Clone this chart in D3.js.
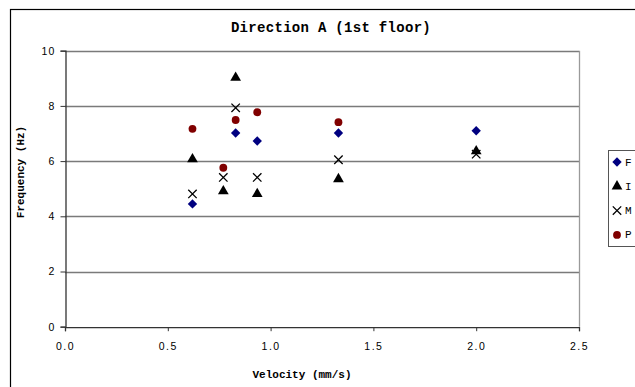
<!DOCTYPE html>
<html>
<head>
<meta charset="utf-8">
<script src="https://cdn.jsdelivr.net/npm/d3@7"></script>
<style>
  html, body { margin: 0; padding: 0; background: #fff; }
  svg { display: block; }
</style>
</head>
<body>
<svg id="chart" width="635" height="387"></svg>
<script>
// Measured natural frequencies against velocity for each test series
const seriesNames = ["F", "I", "M", "P"];
const velocityF = [0.62, 0.83, 0.935, 1.33, 2.0];
const freqF     = [4.45, 7.02, 6.73, 7.02, 7.10];
const velocityI = [0.62, 0.77, 0.83, 0.935, 1.33, 2.0];
const freqI     = [6.07, 4.91, 9.02, 4.81, 5.35, 6.36];
const velocityM = [0.62, 0.77, 0.83, 0.935, 1.33, 2.0];
const freqM     = [4.81, 5.41, 7.93, 5.41, 6.05, 6.25];
const velocityP = [0.62, 0.77, 0.83, 0.935, 1.33];
const freqP     = [7.17, 5.76, 7.49, 7.77, 7.41];
const xTicks = [0, 0.5, 1.0, 1.5, 2.0, 2.5];
const yTicks = [0, 2, 4, 6, 8, 10];

const svg = d3.select("#chart");
const plot = { left: 65, right: 579, top: 50.7, bottom: 326.7 };

const x = d3.scaleLinear().domain([0, 2.5]).range([plot.left, plot.right]);
const y = d3.scaleLinear().domain([0, 10]).range([plot.bottom, plot.top]);

// outer chart frame (extends past the window on the right and bottom)
svg.append("rect")
  .attr("x", 10.5).attr("y", 9.5).attr("width", 800).attr("height", 600)
  .attr("fill", "none").attr("stroke", "#000").attr("stroke-width", 1.2);

// horizontal gridlines
svg.append("g").selectAll("line").data(yTicks.slice(1)).join("line")
  .attr("x1", plot.left).attr("x2", plot.right)
  .attr("y1", d => Math.round(y(d)) + 0.5).attr("y2", d => Math.round(y(d)) + 0.5)
  .attr("stroke", "#7a7a7a").attr("stroke-width", 1.3);

// right border of plot area
svg.append("line")
  .attr("x1", plot.right + 0.5).attr("x2", plot.right + 0.5)
  .attr("y1", plot.top).attr("y2", plot.bottom)
  .attr("stroke", "#9a9a9a").attr("stroke-width", 1.3);

const tickFont = "'Liberation Sans Narrow', 'Liberation Sans', sans-serif";

// y axis
const yAxis = svg.append("g")
  .attr("transform", `translate(${plot.left + 0.5},0)`)
  .call(d3.axisLeft(y).tickValues(yTicks).tickFormat(d3.format("d")).tickSize(5).tickPadding(5));
yAxis.select(".domain").attr("stroke", "#333").attr("stroke-width", 1.3);
yAxis.selectAll(".tick line").attr("stroke", "#333");
yAxis.selectAll("text")
  .attr("font-family", tickFont).attr("font-size", 10.5).attr("fill", "#000")
  .attr("letter-spacing", 1.2);

// x axis
const xAxis = svg.append("g")
  .attr("transform", `translate(0,${plot.bottom + 0.5})`)
  .call(d3.axisBottom(x).tickValues(xTicks).tickFormat(d3.format(".1f")).tickSize(4).tickPadding(11));
xAxis.select(".domain").attr("stroke", "#333").attr("stroke-width", 1.3);
xAxis.selectAll(".tick line").attr("stroke", "#333");
xAxis.selectAll("text")
  .attr("font-family", tickFont).attr("font-size", 10.5).attr("fill", "#000")
  .attr("letter-spacing", 1.5);

const labelFont = "'Liberation Mono', 'Courier New', monospace";

// title
svg.append("text")
  .attr("x", 331).attr("y", 32)
  .attr("text-anchor", "middle")
  .attr("font-family", labelFont).attr("font-weight", "bold").attr("font-size", 14)
  .attr("letter-spacing", 0.3)
  .text("Direction A (1st floor)");

// axis titles
svg.append("text")
  .attr("x", 302).attr("y", 378)
  .attr("text-anchor", "middle")
  .attr("font-family", labelFont).attr("font-weight", "bold").attr("font-size", 11)
  .text("Velocity (mm/s)");

svg.append("text")
  .attr("transform", "translate(24,172) rotate(-90)")
  .attr("text-anchor", "middle")
  .attr("font-family", labelFont).attr("font-weight", "bold").attr("font-size", 11)
  .text("Frequency (Hz)");

// marker styles per series
const styles = {
  F: { shape: d3.symbolDiamond2, size: 56, fill: "#000080", stroke: "none" },
  I: { shape: d3.symbolTriangle, size: 50, fill: "#000", stroke: "none" },
  M: { shape: d3.symbolTimes, size: 48, fill: "none", stroke: "#000" },
  P: { shape: d3.symbolCircle, size: 48, fill: "#800000", stroke: "none" }
};

function drawMarker(g, name, cx, cy) {
  const s = styles[name];
  g.append("path")
    .attr("d", d3.symbol().type(s.shape).size(s.size)())
    .attr("transform", `translate(${cx},${cy})`)
    .attr("fill", s.fill)
    .attr("stroke", s.stroke)
    .attr("stroke-width", s.stroke === "none" ? 0 : 1.3);
}

const series = [
  { name: "F", xs: velocityF, ys: freqF },
  { name: "I", xs: velocityI, ys: freqI },
  { name: "M", xs: velocityM, ys: freqM },
  { name: "P", xs: velocityP, ys: freqP }
];

const pts = svg.append("g");
series.forEach(s => {
  s.xs.forEach((vx, i) => drawMarker(pts, s.name, x(vx), y(s.ys[i])));
});

// legend
const legend = svg.append("g");
legend.append("rect")
  .attr("x", 608.5).attr("y", 150.5).attr("width", 60).attr("height", 96)
  .attr("fill", "#fff").attr("stroke", "#555").attr("stroke-width", 1);
seriesNames.forEach((n, i) => {
  const cy = 162 + i * 24.3;
  drawMarker(legend, n, 617, cy);
  legend.append("text")
    .attr("x", 625).attr("y", cy + 3.5)
    .attr("font-family", labelFont).attr("font-size", 11)
    .text(n);
});
</script>
</body>
</html>
